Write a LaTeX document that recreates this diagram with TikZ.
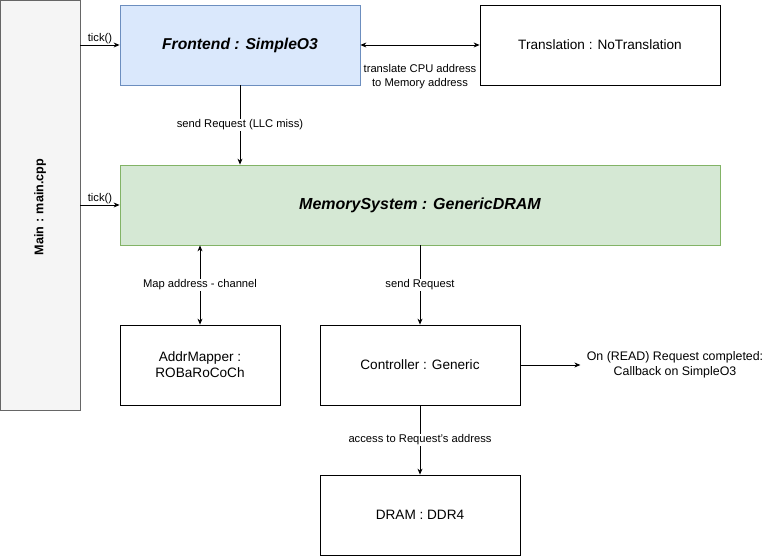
\documentclass[tikz,border=0pt]{standalone}
\usepackage{fontspec}
\setmainfont{Liberation Sans}
\usetikzlibrary{positioning, calc}
\usetikzlibrary{arrows.meta}
\definecolor{mainfill}{HTML}{F5F5F5}
\definecolor{maindraw}{HTML}{666666}
\definecolor{frontfill}{HTML}{DAE8FC}
\definecolor{frontdraw}{HTML}{6C8EBF}
\definecolor{memfill}{HTML}{D5E8D4}
\definecolor{memdraw}{HTML}{82B366}

\begin{document}
\begin{tikzpicture}[x=1pt, y=-1pt, line width=0.8pt, >={Stealth[length=6pt,width=5pt]}]
	\def \rowoneht{45}
	\def \rowtwoht{205}
	\def \rowthreeht{365}
	\tikzstyle{box}=[draw=black, fill=white, inner sep=0pt, align=center, font=\fontsize{13.6}{16}\selectfont]
	\tikzstyle{lbl}=[inner sep=1pt, align=center, font=\fontsize{11.2}{14}\selectfont]
	\tikzstyle{wlbl}=[lbl, fill=white]
	\useasboundingbox (0,0) rectangle (771,556);
	% main loop
	\node[box, fill=mainfill, draw=maindraw, minimum width=80pt, minimum height=410pt] (main) at (40,205) {};
	\node[rotate=90, font=\fontsize{12.6}{15}\selectfont\bfseries] (mainlbl) at (40,207) {Main : main.cpp};
	% components
	\node[box, fill=frontfill, draw=frontdraw, minimum width=240pt, minimum height=80pt, font=\fontsize{15.7}{18}\selectfont\bfseries\itshape] (front) at (240,\rowoneht) {Frontend : SimpleO3};
	\node[box, minimum width=240pt, minimum height=80pt] (trans) at (600,\rowoneht) {Translation : NoTranslation};
	\node[box, fill=memfill, draw=memdraw, minimum width=600pt, minimum height=80pt, font=\fontsize{16}{19}\selectfont\bfseries\itshape] (mem) at (420,\rowtwoht) {MemorySystem : GenericDRAM};
	\node[box, minimum width=160pt, minimum height=80pt] (mapper) at (200,\rowthreeht) {AddrMapper :\\ROBaRoCoCh};
	\node[box, minimum width=200pt, minimum height=80pt] (ctrl) at (420,\rowthreeht) {Controller : Generic};
	\node[box, minimum width=200pt, minimum height=80pt] (dram) at (420,515) {DRAM : DDR4};
	\node[lbl, font=\fontsize{12.4}{15}\selectfont, inner sep=6pt] (callback) at (675,\rowthreeht) {On (READ) Request completed:\\Callback on SimpleO3};
	% connectors
	\draw[-{Stealth[open,length=6pt,width=5pt]}] (main.east |- front.west) -- node[lbl, above] {tick()} (front.west);
	\draw[->] (main.east |- mem.west) -- node[lbl, above] {tick()} (mem.west);
	\draw[<->] (front.east) -- node[lbl, below=18pt] {translate CPU address\\to Memory address} (trans.west);
	\draw[->] (front.south) -- node[wlbl] {send Request (LLC miss)} (front.south |- mem.north);
	\draw[<->] (mapper.north |- mem.south) -- node[wlbl] {Map address - channel} (mapper.north);
	\draw[->] (ctrl.north |- mem.south) -- node[wlbl] {send Request} (ctrl.north);
	\draw[->] (ctrl.east) -- (callback.west);
	\draw[->] (ctrl.south) -- node[wlbl] {access to Request's address} (dram.north);
\end{tikzpicture}
\end{document}
